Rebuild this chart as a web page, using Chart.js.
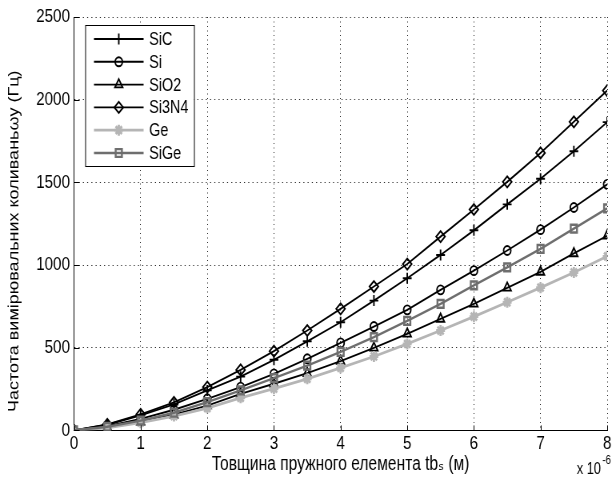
<!DOCTYPE html>
<html>
<head>
<meta charset="utf-8">
<script src="https://cdn.jsdelivr.net/npm/chart.js@4/dist/chart.umd.min.js"></script>
<style>
  html, body { margin: 0; padding: 0; background: #fff; overflow: hidden; }
  /* the source figure is squeezed horizontally, so draw wide and squeeze */
  #wrap { width: 768px; height: 479px; transform: scaleX(0.8); transform-origin: 0 0; }
</style>
</head>
<body>
<div id="wrap"><canvas id="plot"></canvas></div>
<script>
// thickness, x 10^-6 m
const thickness = [0, 0.5, 1, 1.5, 2, 2.5, 3, 3.5, 4, 4.5, 5, 5.5, 6, 6.5, 7, 7.5, 8];
const sicVals   = [0, 34, 91, 157, 242, 325, 427, 539, 654, 785, 920, 1061, 1210, 1367, 1522, 1688, 1864];
const siVals    = [0, 26, 70, 125, 191, 262, 342, 433, 529, 628, 729, 850, 966, 1088, 1214, 1348, 1488];
const sio2Vals  = [0, 19, 52, 95, 150, 221, 282, 346, 419, 499, 584, 674, 765, 862, 958, 1070, 1177];
const si3n4Vals = [0, 36, 97, 169, 262, 366, 479, 604, 735, 870, 1006, 1172, 1336, 1503, 1678, 1866, 2055];
const geVals    = [0, 16, 47, 87, 135, 197, 252, 312, 378, 447, 523, 604, 688, 775, 863, 955, 1053];
const sigeVals  = [0, 22, 59, 107, 171, 242, 316, 392, 475, 564, 662, 765, 877, 986, 1098, 1220, 1343];

const xTicks = [0, 1, 2, 3, 4, 5, 6, 7, 8];
const yTicks = [0, 500, 1000, 1500, 2000, 2500];

const FONT = "'Liberation Sans', Arial, 'DejaVu Sans', sans-serif";

function pts(vals) {
  return vals.map((v, i) => ({ x: thickness[i], y: v }));
}

function series(label, vals, color, style, radius, lw, order) {
  return {
    label: label,
    data: pts(vals),
    borderColor: color,
    backgroundColor: color,
    borderWidth: lw,
    pointStyle: style,
    pointRadius: radius,
    pointBorderColor: color,
    pointBackgroundColor: "rgba(0,0,0,0)",
    pointBorderWidth: lw,
    tension: 0,
    order: order
  };
}

// MATLAB-style inward ticks + exponent
const innerTicks = {
  id: "innerTicks",
  afterDraw(chart) {
    const { ctx, chartArea: a, scales: { x, y } } = chart;
    ctx.save();
    ctx.strokeStyle = "#000";
    ctx.lineWidth = 1;
    ctx.beginPath();
    xTicks.forEach(t => {
      const px = Math.round(x.getPixelForValue(t)) + 0.5;
      ctx.moveTo(px, a.bottom);
      ctx.lineTo(px, a.bottom - 5);
    });
    yTicks.forEach(t => {
      const py = Math.round(y.getPixelForValue(t)) + 0.5;
      ctx.moveTo(a.left, py);
      ctx.lineTo(a.left + 7, py);
    });
    ctx.stroke();

    ctx.fillStyle = "#000";
    ctx.textBaseline = "middle";
    ctx.textAlign = "left";
    ctx.font = "16px " + FONT;
    ctx.fillText("x 10", a.right - 38, 470);
    ctx.font = "12px " + FONT;
    ctx.fillText("-6", a.right - 6, 461);
    ctx.restore();
  }
};

// legend box inside the axes, line + marker samples
const boxLegend = {
  id: "boxLegend",
  afterDraw(chart) {
    const { ctx, chartArea: a } = chart;
    const bx = a.left + 14, by = a.top + 8, bw = 136, bh = 141;
    ctx.save();
    ctx.fillStyle = "#fff";
    ctx.fillRect(bx, by, bw, bh);
    ctx.strokeStyle = "#000";
    ctx.lineWidth = 1;
    ctx.strokeRect(bx + 0.5, by + 0.5, bw, bh);
    chart.data.datasets.forEach((ds, row) => {
      const yy = by + 14 + row * 22.8;
      ctx.strokeStyle = ds.borderColor;
      ctx.lineWidth = ds.borderWidth;
      ctx.beginPath();
      ctx.moveTo(bx + 11, yy);
      ctx.lineTo(bx + 73, yy);
      ctx.stroke();
      ctx.fillStyle = "rgba(0,0,0,0)";
      Chart.helpers.drawPoint(ctx, {
        pointStyle: ds.pointStyle,
        radius: ds.pointRadius,
        rotation: 0,
        borderWidth: ds.pointBorderWidth
      }, bx + 42, yy);
      ctx.fillStyle = "#000";
      ctx.font = "18px " + FONT;
      ctx.textAlign = "left";
      ctx.textBaseline = "middle";
      ctx.fillText(ds.label, bx + 80, yy + 1);
    });
    ctx.restore();
  }
};

const chart = new Chart(document.getElementById("plot").getContext("2d"), {
  type: "line",
  data: {
    datasets: [
      series("SiC", sicVals, "#000", "cross", 5.5, 1.9, 6),
      series("Si", siVals, "#000", "circle", 4.5, 1.9, 5),
      series("SiO2", sio2Vals, "#000", "triangle", 5.5, 1.9, 4),
      series("Si3N4", si3n4Vals, "#000", "rectRot", 5.5, 1.9, 3),
      series("Ge", geVals, "#b5b5b5", "star", 5.5, 2.8, 2),
      series("SiGe", sigeVals, "#6e6e6e", "rect", 5.5, 2.4, 1)
    ]
  },
  options: {
    responsive: true,
    maintainAspectRatio: false,
    animation: false,
    layout: { padding: { top: 17, right: 9, bottom: 0, left: 0 } },
    plugins: { legend: { display: false }, tooltip: { enabled: false } },
    scales: {
      x: {
        type: "linear",
        min: 0,
        max: 8,
        afterFit(s) { s.height = 48.6; },
        afterBuildTicks(s) { s.ticks = xTicks.map(v => ({ value: v })); },
        grid: { color: "#222", lineWidth: 1, drawTicks: false },
        border: { color: "#000", width: 1, dash: [1, 3.5] },
        ticks: { color: "#000", padding: 2, font: { family: FONT, size: 19 }, callback: v => String(v) },
        title: {
          display: true,
          text: "Товщина пружного елемента tbₛ (м)",
          color: "#000",
          font: { family: FONT, size: 19.5 },
          padding: { top: 0, bottom: 3 }
        }
      },
      y: {
        min: 0,
        max: 2500,
        afterFit(s) { s.width = 92.5; },
        afterBuildTicks(s) { s.ticks = yTicks.map(v => ({ value: v })); },
        grid: { color: "#222", lineWidth: 1, drawTicks: false },
        border: { color: "#000", width: 1, dash: [1.3, 4] },
        ticks: { color: "#000", padding: 5, font: { family: FONT, size: 19 }, callback: v => String(v) },
        title: {
          display: true,
          // trailing no-break spaces nudge the label down like the original
          text: "Частота вимірювальних коливаньωу (Гц)\u00a0\u00a0\u00a0\u00a0\u00a0\u00a0\u00a0",
          color: "#000",
          font: { family: FONT, size: 18 },
          padding: { top: 7, bottom: 0 }
        }
      }
    }
  },
  plugins: [innerTicks, boxLegend]
});
</script>
</body>
</html>
